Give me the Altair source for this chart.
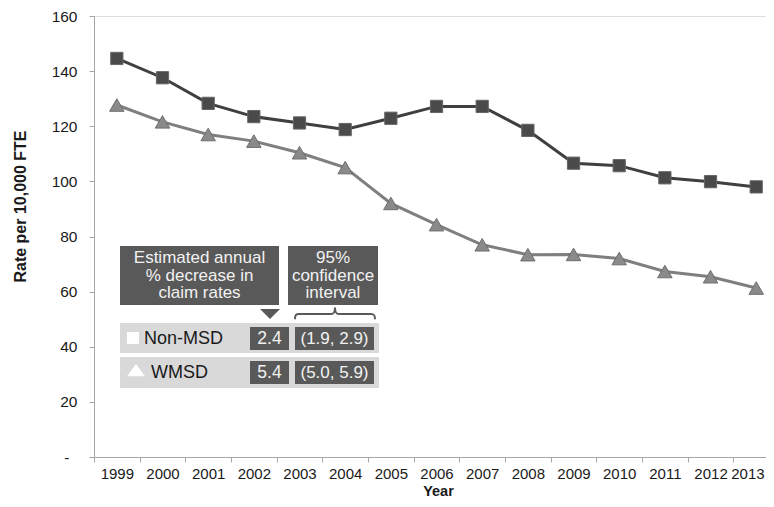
import altair as alt
import pandas as pd

# ---------------- data ----------------
years = list(range(1999, 2014))
non_msd = [144.6, 137.6, 128.3, 123.5, 121.2, 118.8, 122.9, 127.2, 127.2, 118.5, 106.6, 105.7, 101.3, 99.9, 98.0]
wmsd = [127.7, 121.6, 117.0, 114.6, 110.4, 105.0, 92.0, 84.3, 77.0, 73.4, 73.5, 72.0, 67.3, 65.4, 61.3]
series_names = ["Non-MSD", "WMSD"]
pct_decrease = ["2.4", "5.4"]
conf_int = ["(1.9, 2.9)", "(5.0, 5.9)"]
header1 = ["Estimated annual", "% decrease in", "claim rates"]
header2 = ["95%", "confidence", "interval"]
y_ticks = [0, 20, 40, 60, 80, 100, 120, 140, 160]

FONT = "Liberation Sans"
DARK = "#595959"
AXIS = "#a6a6a6"
STEP = 45.67          # px per year
PLOT_W = 672

df = pd.DataFrame({
    "Year": years + years,
    "Rate": non_msd + wmsd,
    "Series": [series_names[0]] * len(years) + [series_names[1]] * len(years),
})

x_enc = alt.X(
    "Year:Q",
    scale=alt.Scale(domain=[1998.5, 1998.5 + PLOT_W / STEP], nice=False, zero=False),
    axis=alt.Axis(
        values=[y - 0.5 for y in years],
        labelExpr="format(datum.value + 0.5, 'd')",
        labelOffset={"condition": {"test": "datum.value > 2012", "value": 14}, "value": STEP / 2},
        labelFlush=False,
        labelOverlap=False,
        tickSize=5,
        tickColor=AXIS,
        domainColor=AXIS,
        grid=False,
        labelFont=FONT,
        labelFontSize=15,
        labelColor="#1a1a1a",
        labelPadding=4,
        title="Year",
        titleFont=FONT,
        titleFontSize=14.5,
        titleFontWeight="bold",
        titleColor="#1a1a1a",
        titleX=344,
        titleY=38,
        titleBaseline="alphabetic",
    ),
)
y_enc = alt.Y(
    "Rate:Q",
    scale=alt.Scale(domain=[0, 160], nice=False),
    axis=alt.Axis(
        values=y_ticks,
        labelExpr="datum.value == 0 ? '-' : datum.label",
        labelPadding={"condition": {"test": "datum.value == 0", "value": 20}, "value": 12},
        labelFlush=False,
        tickSize=5,
        tickColor=AXIS,
        domainColor=AXIS,
        grid=False,
        labelFont=FONT,
        labelFontSize=15.5,
        labelColor="#1a1a1a",
        title="Rate per 10,000 FTE",
        titleFont=FONT,
        titleFontSize=16,
        titleFontWeight="bold",
        titleColor="#1a1a1a",
        titleX=-69,
        titleY=190,
        titleBaseline="alphabetic",
    ),
)

d_non = df[df.Series == series_names[0]]
d_w = df[df.Series == series_names[1]]

line_non = alt.Chart(d_non).mark_line(color="#3f3f3f", strokeWidth=3).encode(x=x_enc, y=y_enc)
line_w = alt.Chart(d_w).mark_line(color="#7f7f7f", strokeWidth=3).encode(x=x_enc, y=y_enc)
pts_non = alt.Chart(d_non).mark_point(shape="square", filled=True, size=150, fill="#4a4a4a",
                                      stroke="#666666", strokeWidth=1, opacity=1).encode(x="Year:Q", y="Rate:Q")
pts_w = alt.Chart(d_w).mark_point(shape="triangle-up", filled=True, size=210, fill="#8a8a8a",
                                  stroke="#6e6e6e", strokeWidth=1, opacity=1).encode(x="Year:Q", y="Rate:Q")

# ---------------- inset table (pixel layout) ----------------
rect_layout = pd.DataFrame({
    "x": [26, 194, 26, 26, 156, 201, 156, 201],
    "x2": [185, 284, 285, 285, 195, 280, 195, 280],
    "y": [230, 230, 307, 341, 311, 311, 345, 345],
    "y2": [289, 289, 337, 372, 334, 334, 368, 368],
    "c": [DARK, DARK, "#d9d9d9", "#d9d9d9", DARK, DARK, DARK, DARK],
})
rects = alt.Chart(rect_layout).mark_rect().encode(
    x=alt.X("x:Q", scale=None, axis=None),
    x2="x2:Q",
    y=alt.Y("y:Q", scale=None, axis=None),
    y2="y2:Q",
    color=alt.Color("c:N", scale=None, legend=None),
)

hdr_y = [242, 260, 277]
center_text = pd.DataFrame({
    "x": [105.5] * 3 + [239] * 3 + [175.5, 240.5, 175.5, 240.5],
    "y": hdr_y + hdr_y + [323, 323, 357, 357],
    "t": header1 + header2 + [pct_decrease[0], conf_int[0], pct_decrease[1], conf_int[1]],
    "s": [17] * 6 + [17.5, 17, 17.5, 17],
})
ctext = alt.Chart(center_text).mark_text(font=FONT, align="center", baseline="middle", color="#f2f2f2").encode(
    x=alt.X("x:Q", scale=None, axis=None),
    y=alt.Y("y:Q", scale=None, axis=None),
    text="t:N",
    size=alt.Size("s:Q", scale=None, legend=None),
)
left_text = pd.DataFrame({"x": [50, 57], "y": [323, 357], "t": series_names})
ltext = alt.Chart(left_text).mark_text(font=FONT, align="left", baseline="middle", fontSize=18,
                                      color="#1a1a1a").encode(
    x=alt.X("x:Q", scale=None, axis=None),
    y=alt.Y("y:Q", scale=None, axis=None),
    text="t:N",
)

def sym(px, py, **kw):
    return alt.Chart(pd.DataFrame({"x": [px], "y": [py]})).mark_point(opacity=1, **kw).encode(
        x=alt.X("x:Q", scale=None, axis=None),
        y=alt.Y("y:Q", scale=None, axis=None),
    )

white_sq = sym(39, 322, shape="square", filled=True, fill="white", size=144, strokeWidth=0)
white_tri = sym(42, 354, shape="M -1 0.7 L 1 0.7 L 0 -0.7 Z", filled=True, fill="white", size=324, strokeWidth=0)
down_tri = sym(176, 298, shape="M -1 -0.5 L 1 -0.5 L 0 0.5 Z", filled=True, fill=DARK, size=400, strokeWidth=0)
brace = sym(241, 298,
            shape="M -1 0.13 C -1 0.02 -0.97 0 -0.9 0 L -0.1 0 C -0.03 0 0 -0.03 0 -0.16 "
                  "C 0 -0.03 0.03 0 0.1 0 L 0.9 0 C 0.97 0 1 0.02 1 0.13",
            filled=False, stroke=DARK, strokeWidth=2, size=6400)

chart = alt.layer(
    line_w, line_non, pts_w, pts_non,
    rects, ctext, ltext, white_sq, white_tri, down_tri, brace,
).properties(
    width=PLOT_W,
    height=441,
    autosize=alt.AutoSizeParams(type="none"),
    padding={"left": 86, "top": 8, "right": 0, "bottom": 42},
).configure_view(stroke=None).configure(font=FONT)

chart.save("out.html", embed_options={"renderer": "svg", "actions": False})
